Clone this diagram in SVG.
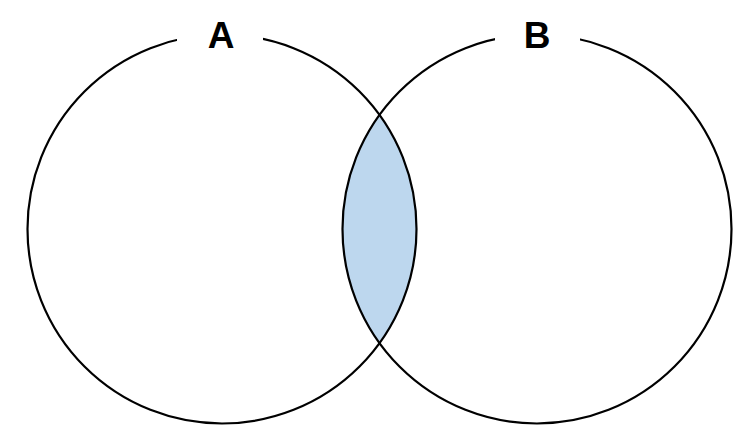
<svg xmlns="http://www.w3.org/2000/svg" width="744" height="446" viewBox="0 0 744 446">
<style>
.set{fill:none;stroke:#000;stroke-width:2.2}
.lens{fill:#bdd7ee;stroke:none}
.lblbg{fill:#fff;stroke:none}
.lbl{font-family:"Liberation Sans",Arial,sans-serif;font-weight:bold;font-size:37px;fill:#000;text-anchor:middle}
</style>
<rect width="744" height="446" fill="#fff"/>
<g id="intersection">
<path class="lens" d="M379.5,114.9 A194.5,194.5 0 0 1 379.5,343.1 A194.5,194.5 0 0 1 379.5,114.9 Z"/>
</g>
<g id="setA">
<circle class="set" cx="222" cy="229" r="194.5"/>
<rect class="lblbg" x="177" y="18" width="86" height="34"/>
<text class="lbl" x="221" y="48">A</text>
</g>
<g id="setB">
<circle class="set" cx="537" cy="229" r="194.5"/>
<rect class="lblbg" x="495" y="18" width="85" height="34"/>
<text class="lbl" x="537" y="48">B</text>
</g>
</svg>
